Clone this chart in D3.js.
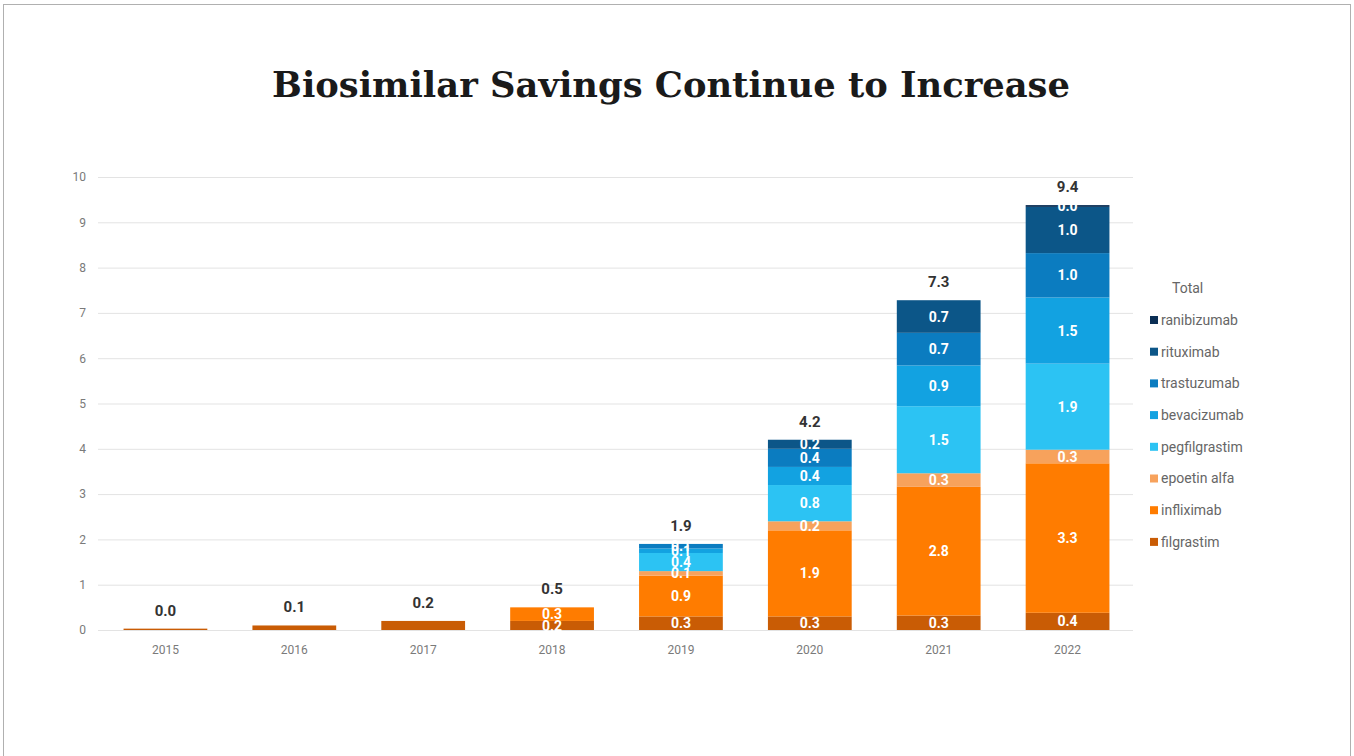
<!DOCTYPE html>
<html>
<head>
<meta charset="utf-8">
<script src="https://cdn.jsdelivr.net/npm/d3@7"></script>
<style>
  html, body { margin: 0; padding: 0; background: #fff; }
  svg { display: block; }
</style>
</head>
<body>
<svg id="chart" width="1354" height="756"></svg>
<script>
// Savings by year (billions), one array per product, stacked bottom to top
const years = ["2015", "2016", "2017", "2018", "2019", "2020", "2021", "2022"];
const seriesNames = ["filgrastim", "infliximab", "epoetin alfa", "pegfilgrastim",
                     "bevacizumab", "trastuzumab", "rituximab", "ranibizumab"];
const filgrastim    = [0.03, 0.1, 0.2, 0.2, 0.3, 0.3, 0.32, 0.38];
const infliximab    = [0,    0,   0,   0.3, 0.9, 1.9, 2.84, 3.30];
const epoetinAlfa   = [0,    0,   0,   0,   0.1, 0.2, 0.30, 0.30];
const pegfilgrastim = [0,    0,   0,   0,   0.4, 0.8, 1.48, 1.90];
const bevacizumab   = [0,    0,   0,   0,   0.1, 0.4, 0.90, 1.46];
const trastuzumab   = [0,    0,   0,   0,   0.1, 0.4, 0.72, 0.98];
const rituximab     = [0,    0,   0,   0,   0,   0.2, 0.72, 1.02];
const ranibizumab   = [0,    0,   0,   0,   0,   0,   0,    0.04];
const seriesValues = [filgrastim, infliximab, epoetinAlfa, pegfilgrastim,
                      bevacizumab, trastuzumab, rituximab, ranibizumab];
const seriesColors = ["#c95c05", "#ff7c00", "#f7a25c", "#2cc3f3",
                      "#12a2e1", "#0b7cc0", "#0c5688", "#0b2f55"];
const yTicks = [0, 1, 2, 3, 4, 5, 6, 7, 8, 9, 10];
const titleText = "Biosimilar Savings Continue to Increase";
const legendTitle = "Total";

const svg = d3.select("#chart");

// outer frame
svg.append("rect")
  .attr("x", 3.5).attr("y", 4.5)
  .attr("width", 1347).attr("height", 800)
  .attr("fill", "none").attr("stroke", "#b0b0b0").attr("stroke-width", 1);

// title, sized to span its slot
const title = svg.append("text")
  .attr("x", 671).attr("y", 97)
  .attr("text-anchor", "middle")
  .attr("font-family", "'DejaVu Serif', serif")
  .attr("font-weight", "bold")
  .attr("font-size", 34)
  .attr("fill", "#1a1a1a")
  .text(titleText);
const tw = title.node().getComputedTextLength();
title.attr("font-size", 34 * 798 / tw);

// table of rows for the stack
const rows = years.map((yr, i) => {
  const r = { year: yr };
  seriesNames.forEach((s, k) => { r[s] = seriesValues[k][i]; });
  return r;
});
const stacked = d3.stack().keys(seriesNames)(rows);
const totals = rows.map(r => d3.sum(seriesNames, s => r[s]));

const x = d3.scaleBand().domain(years).range([101, 1132])
  .paddingInner(0.35).paddingOuter(0.175);
const y = d3.scaleLinear().domain([0, 10]).range([630, 177]);
const color = d3.scaleOrdinal().domain(seriesNames).range(seriesColors);

// gridlines + y labels
const yAxis = svg.append("g").attr("transform", "translate(98,0)")
  .call(d3.axisLeft(y).tickValues(yTicks).tickSize(-1035).tickFormat(d3.format("d")));
yAxis.select(".domain").remove();
yAxis.selectAll(".tick line").attr("stroke", "#e3e3e3");
yAxis.selectAll(".tick text")
  .attr("x", -12)
  .attr("fill", "#7a7a7a")
  .attr("font-family", "Roboto, sans-serif")
  .attr("font-size", 12);

// x labels
const xAxis = svg.append("g").attr("transform", "translate(0,630)")
  .call(d3.axisBottom(x).tickSize(0));
xAxis.select(".domain").remove();
xAxis.selectAll(".tick text")
  .attr("dy", "1.75em")
  .attr("fill", "#7a7a7a")
  .attr("font-family", "Roboto, sans-serif")
  .attr("font-size", 12);

// stacked bars
const layers = svg.append("g").selectAll("g").data(stacked).join("g")
  .attr("fill", d => color(d.key));
layers.selectAll("rect").data(d => d).join("rect")
  .attr("x", d => x(d.data.year))
  .attr("width", x.bandwidth())
  .attr("y", d => y(d[1]))
  .attr("height", d => y(d[0]) - y(d[1]));

// segment value labels (years with more than one product)
const fmt = d3.format(".1f");
const multi = rows.map(r => seriesNames.filter(s => r[s] > 0).length > 1);
const segLabels = [];
stacked.forEach(layer => layer.forEach((d, i) => {
  const v = d[1] - d[0];
  if (v > 0 && multi[i]) segLabels.push({ year: d.data.year, y0: d[0], y1: d[1], v });
}));
svg.append("g").selectAll("text").data(segLabels).join("text")
  .attr("x", d => x(d.year) + x.bandwidth() / 2)
  .attr("y", d => (y(d.y0) + y(d.y1)) / 2)
  .attr("dy", "0.36em")
  .attr("text-anchor", "middle")
  .attr("font-family", "Roboto, sans-serif")
  .attr("font-weight", "bold")
  .attr("font-size", 14)
  .attr("fill", "#ffffff")
  .text(d => fmt(d.v));

// totals above bars
svg.append("g").selectAll("text").data(rows).join("text")
  .attr("x", d => x(d.year) + x.bandwidth() / 2)
  .attr("y", (d, i) => y(totals[i]) - 13)
  .attr("text-anchor", "middle")
  .attr("font-family", "Roboto, sans-serif")
  .attr("font-weight", "bold")
  .attr("font-size", 15)
  .attr("fill", "#333333")
  .text((d, i) => fmt(totals[i]));

// legend, darkest (top of stack) first
const legend = svg.append("g").attr("transform", "translate(1150,0)");
legend.append("text")
  .attr("x", 22).attr("y", 293)
  .attr("font-family", "Roboto, sans-serif")
  .attr("font-size", 14)
  .attr("fill", "#666")
  .text(legendTitle);
const legendOrder = seriesNames.slice().reverse();
const items = legend.selectAll("g.item").data(legendOrder).join("g")
  .attr("class", "item")
  .attr("transform", (d, i) => `translate(0,${320 + i * 31.7})`);
items.append("rect")
  .attr("x", 0).attr("y", -4).attr("width", 8).attr("height", 8)
  .attr("fill", d => color(d));
items.append("text")
  .attr("x", 11).attr("y", 0).attr("dy", "0.35em")
  .attr("font-family", "Roboto, sans-serif")
  .attr("font-size", 14)
  .attr("fill", "#666")
  .text(d => d);
</script>
</body>
</html>
